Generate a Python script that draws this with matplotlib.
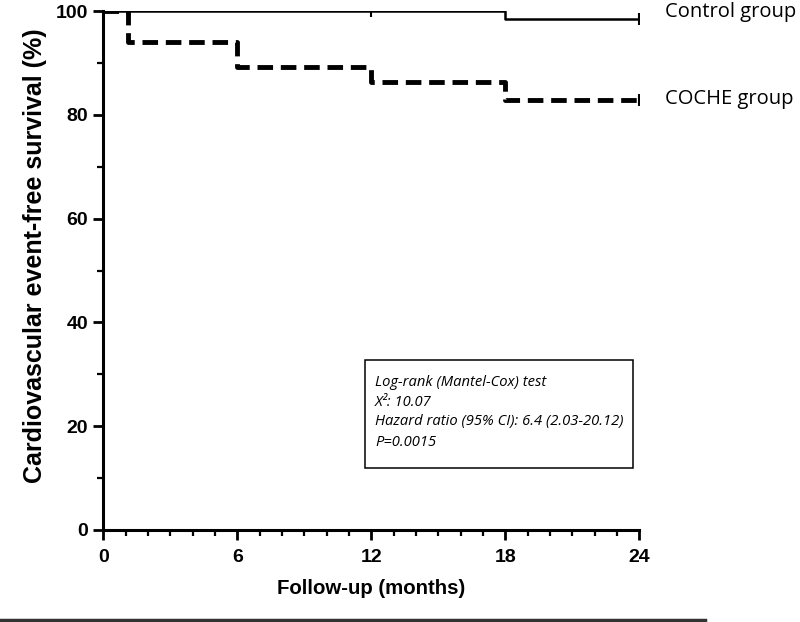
import matplotlib
matplotlib.use("Agg")
import matplotlib.pyplot as plt
from matplotlib.ticker import MultipleLocator
from matplotlib.patches import Rectangle

# Data
control_t = [0, 18, 24]
control_s = [100, 98.4, 98.4]
control_censor_t = [12, 24]
control_censor_s = [100, 98.4]

coche_t = [0, 1.1, 6, 12, 18, 24]
coche_s = [100, 94.0, 89.3, 86.3, 82.9, 82.9]
coche_censor_t = [24]
coche_censor_s = [82.9]

x_ticks = [0, 6, 12, 18, 24]
y_ticks = [0, 20, 40, 60, 80, 100]

box_lines = ["Log-rank (Mantel-Cox) test", "X\u00b2: 10.07",
             "Hazard ratio (95% CI): 6.4 (2.03-20.12)", "P=0.0015"]

fig = plt.figure(figsize=(8, 6.22), dpi=100)
ax = fig.add_axes([0.129, 0.148, 0.670, 0.834])

ax.step(control_t, control_s, where="post", color="black", lw=1.8, solid_capstyle="butt")
ax.step(coche_t, coche_s, where="post", color="black", lw=3.5, linestyle=(0, (3.2, 1.6)))
ax.plot(control_censor_t, control_censor_s, linestyle="none", marker="|", ms=8, mew=1.5, color="black")
ax.plot(coche_censor_t, coche_censor_s, linestyle="none", marker="|", ms=8, mew=1.5, color="black")

ax.set_xlim(0, 24)
ax.set_ylim(0, 100)
ax.set_xticks(x_ticks)
ax.set_yticks(y_ticks)
ax.xaxis.set_minor_locator(MultipleLocator(1))
ax.yaxis.set_minor_locator(MultipleLocator(10))
for s in ["top", "right"]:
    ax.spines[s].set_visible(False)
for s in ["left", "bottom"]:
    ax.spines[s].set_linewidth(2.2)
ax.tick_params(which="major", direction="out", length=7, width=2)
ax.tick_params(which="minor", direction="out", length=4, width=1.6)
for lab in ax.get_xticklabels() + ax.get_yticklabels():
    lab.set_fontfamily("Liberation Sans")
    lab.set_fontweight("bold")
    lab.set_fontsize(14)
ax.tick_params(axis="x", pad=7)
ax.tick_params(axis="y", pad=4)

ax.set_xlabel("Follow-up (months)", fontfamily="Liberation Sans", fontweight="bold", fontsize=14.7, labelpad=9)
ax.set_ylabel("Cardiovascular event-free survival (%)", fontfamily="Liberation Sans", fontweight="bold", fontsize=18)
ax.yaxis.set_label_coords(-0.1045, 0.528)

fig.text(665 / 800, 1 - 12 / 622, "Control group", fontfamily="Open Sans", fontsize=14.5, va="center", ha="left")
fig.text(665 / 800, 1 - 99 / 622, "COCHE group", fontfamily="Open Sans", fontsize=14.5, va="center", ha="left")

# Statistics box
fig.add_artist(Rectangle((365 / 800, 1 - 468 / 622), (633 - 365) / 800, (468 - 360) / 622,
                         transform=fig.transFigure, fc="white", ec="black", lw=1.1))
for i, line in enumerate(box_lines):
    fig.text(375 / 800, 1 - (382 + 20 * i) / 622, line, fontfamily="Open Sans", style="italic",
             fontsize=10.6, va="center", ha="left")

fig.add_artist(plt.Line2D([0, 705 / 800], [1 - 620 / 622, 1 - 620 / 622], color="#333333", lw=2.5,
                          transform=fig.transFigure))

fig.savefig("out.png", dpi=100)
